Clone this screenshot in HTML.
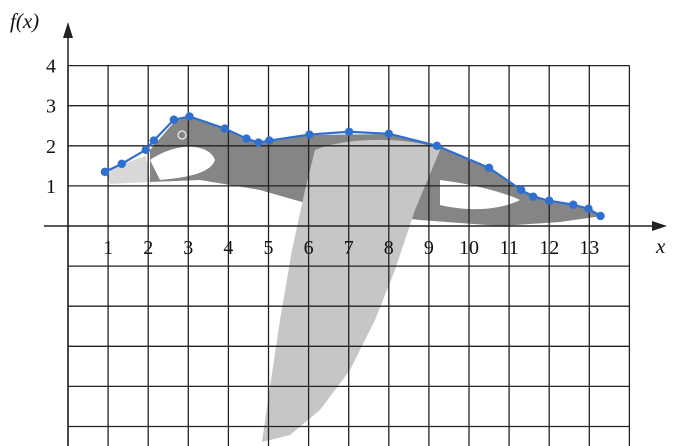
<!DOCTYPE html>
<html><head><meta charset="utf-8"><style>
html,body{margin:0;padding:0;background:#fff;}
svg{display:block;font-family:"Liberation Serif",serif;}
</style></head><body>
<svg id="chart" width="697" height="446" viewBox="0 0 697 446">
<g id="goose">
 <path d="M150,150 L175,121 L190,117 L226,129 L258,143 L310,135 L390,134 L438,146 L490,168 L522,190 L550,201 L590,209 L602,216 L560,222 L500,226 L420,220 L330,210 L260,190 L200,180 L150,182 Z" fill="#858585"/>
 <path d="M150,160 C180,140 210,145 215,160 C210,175 180,178 160,180 Z" fill="#fff"/>
 <path d="M440,180 C480,185 510,195 520,200 C500,210 470,212 440,205 Z" fill="#fff"/>
 <path d="M315,150 C350,135 420,138 440,150 L415,210 L405,240 L395,270 L375,320 L350,370 L320,410 L290,435 L262,442 L268,400 L280,320 L292,250 L305,190 Z" fill="#c6c6c6"/>
 <path d="M105,172 L122,164 L146,156 L150,182 L110,184 Z" fill="#d8d8d8"/>
 <circle cx="182" cy="135" r="4" fill="none" stroke="#eee" stroke-width="1.2"/>
</g>
<g id="grid" stroke="#222" stroke-width="1.3"></g>
<g id="axes"></g>
<g id="labels" font-size="20" fill="#111"></g>
<g id="series"></g>
<text x="10" y="28" font-size="21" font-style="italic" fill="#111">f(x)</text>
<text x="656" y="253" font-size="21" font-style="italic" fill="#111">x</text>
</svg>
<script>
const xTicks=[1,2,3,4,5,6,7,8,9,10,11,12,13];
const yTicks=[1,2,3,4];
const xVals=[0.92,1.34,1.94,2.14,2.64,3.03,3.91,4.45,4.75,5.02,6.02,7.01,8.0,9.2,10.5,11.3,11.6,12.0,12.6,12.98,13.28];
const yVals=[1.35,1.55,1.9,2.13,2.65,2.73,2.43,2.18,2.08,2.13,2.28,2.35,2.3,2.0,1.45,0.9,0.73,0.63,0.53,0.43,0.25];
const sx=v=>68+v*40.1;
const sy=v=>226-v*40.1;
const NS="http://www.w3.org/2000/svg";
function mk(t,a,p){const e=document.createElementNS(NS,t);for(const k in a)e.setAttribute(k,a[k]);p.appendChild(e);return e;}
const grid=document.getElementById('grid');
for(let i=0;i<=14;i++){
 const l=mk('line',{x1:sx(i),x2:sx(i),y1:sy(4),y2:446},grid);
 
 
}
for(let j=-5;j<=4;j++){
 if(j===0)continue;
 const l=mk('line',{x1:sx(0),x2:sx(14),y1:sy(j),y2:sy(j)},grid);
 
 
}
const ax=document.getElementById('axes');
const xa=mk('line',{x1:44,x2:662,y1:sy(0),y2:sy(0),stroke:'#222','stroke-width':1.5},ax);


const xh=mk('path',{d:`M667,${sy(0)} L652,${sy(0)-5} L652,${sy(0)+5} Z`,fill:'#222'},ax);


const ya=mk('line',{x1:sx(0),x2:sx(0),y1:30,y2:446,stroke:'#222','stroke-width':1.5},ax);


const yh=mk('path',{d:`M${sx(0)},22 L${sx(0)-5},38 L${sx(0)+5},38 Z`,fill:'#222'},ax);


const lab=document.getElementById('labels');
xTicks.forEach(v=>{const t=mk('text',{x:sx(v),y:254,'text-anchor':'middle'},lab);t.textContent=v;
 
 });
yTicks.forEach(v=>{const t=mk('text',{x:56,y:sy(v)+7,'text-anchor':'end'},lab);t.textContent=v;
 
 });
const ser=document.getElementById('series');
const pl=mk('polyline',{points:xVals.map((x,i)=>sx(x)+','+sy(yVals[i])).join(' '),fill:'none',stroke:'#2f6fd0','stroke-width':2.2},ser);


xVals.forEach((x,i)=>{const c=mk('circle',{cx:sx(x),cy:sy(yVals[i]),r:4.2,fill:'#2f6fd0'},ser);
 
 });
</script>
</body></html>
